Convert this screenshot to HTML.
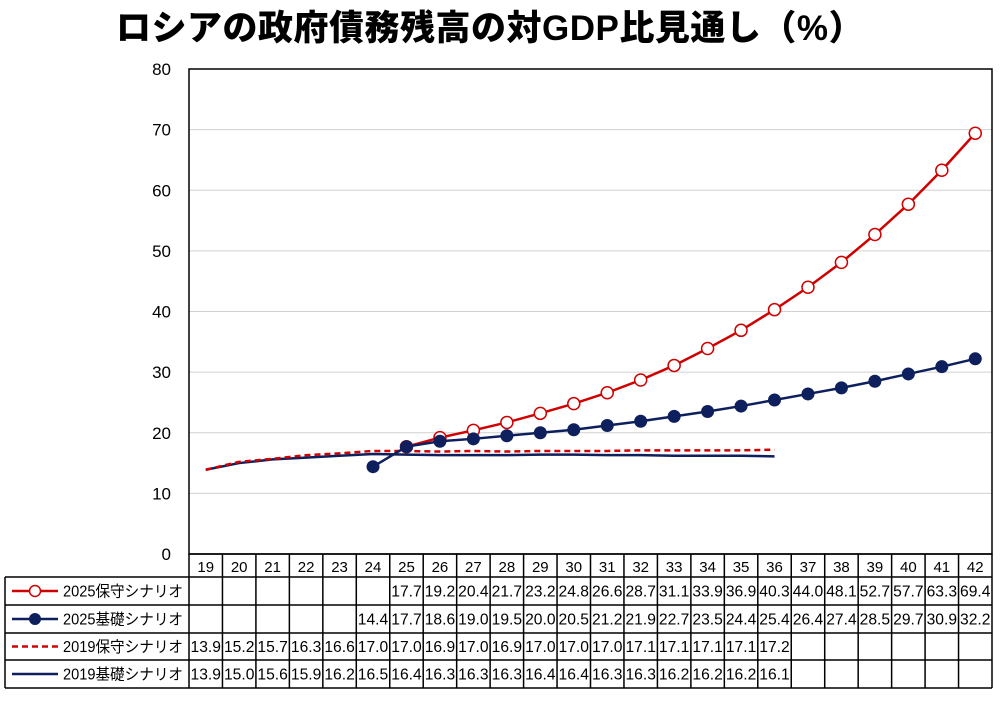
<!DOCTYPE html>
<html><head><meta charset="utf-8"><style>
body{margin:0;background:#fff;width:1000px;height:701px;overflow:hidden;font-family:"Liberation Sans","Noto Sans CJK JP",sans-serif}
#title{position:absolute;left:0;top:0px;width:980px;text-align:center;font-size:35px;font-weight:900;letter-spacing:0.5px;font-family:"Liberation Sans","Noto Sans CJK JP",sans-serif}
</style></head><body>
<div id="title">ロシアの政府債務残高の対GDP比見通し（%）</div>
<svg id="chart" width="1000" height="701" style="position:absolute;left:0;top:0"></svg>
<script>
const categories=["19","20","21","22","23","24","25","26","27","28","29","30","31","32","33","34","35","36","37","38","39","40","41","42"];
const cons2025=[null,null,null,null,null,null,17.7,19.2,20.4,21.7,23.2,24.8,26.6,28.7,31.1,33.9,36.9,40.3,44.0,48.1,52.7,57.7,63.3,69.4];
const base2025=[null,null,null,null,null,14.4,17.7,18.6,19.0,19.5,20.0,20.5,21.2,21.9,22.7,23.5,24.4,25.4,26.4,27.4,28.5,29.7,30.9,32.2];
const cons2019=[13.9,15.2,15.7,16.3,16.6,17.0,17.0,16.9,17.0,16.9,17.0,17.0,17.0,17.1,17.1,17.1,17.1,17.2,null,null,null,null,null,null];
const base2019=[13.9,15.0,15.6,15.9,16.2,16.5,16.4,16.3,16.3,16.3,16.4,16.4,16.3,16.3,16.2,16.2,16.2,16.1,null,null,null,null,null,null];
const yTicks=[0,10,20,30,40,50,60,70,80];
const seriesNames=["2025保守シナリオ","2025基礎シナリオ","2019保守シナリオ","2019基礎シナリオ"];

const NS="http://www.w3.org/2000/svg";
const svg=document.getElementById('chart');
const L=189,R=992,T=69,B=554;
const cw=(R-L)/categories.length;
const x=i=>L+cw*(i+0.5);
const y=v=>B-(v/80)*(B-T);
function mk(tag,attrs,parent){const e=document.createElementNS(NS,tag);for(const k in attrs)e.setAttribute(k,attrs[k]);(parent||svg).appendChild(e);return e;}
const RED="#d00000",NAVY="#0d1f5c";
yTicks.forEach(t=>{
 if(t>0&&t<80){const g=mk('line',{x1:L,x2:R,y1:y(t),y2:y(t),stroke:'#d0d0d0','stroke-width':1});
 
 }
 const lb=mk('text',{x:171,y:y(t)+6,'text-anchor':'end','font-size':17,fill:'#000'});
 lb.textContent=t;
 
 
});
const fr=mk('rect',{x:L,y:T,width:R-L,height:B-T,fill:'none',stroke:'#000','stroke-width':1.5});


function path(arr){let d='';arr.forEach((v,i)=>{if(v==null)return;d+=(d?'L':'M')+x(i)+','+y(v);});return d;}
function line(arr,color,dash,name){const p=mk('path',{d:path(arr),fill:'none',stroke:color,'stroke-width':2.5,'stroke-dasharray':dash||'','stroke-linejoin':'round'});
 
 }
line(base2019,NAVY,'', 'line-2019-base');
line(cons2019,RED,'6,4','line-2019-conservative');
line(cons2025,RED,'','line-2025-conservative');
cons2025.forEach((v,i)=>{if(v==null)return;const c=mk('circle',{cx:x(i),cy:y(v),r:6,fill:'#fff',stroke:RED,'stroke-width':1.5});
 
 });
line(base2025,NAVY,'','line-2025-base');
base2025.forEach((v,i)=>{if(v==null)return;const c=mk('circle',{cx:x(i),cy:y(v),r:6.5,fill:NAVY});
 
 });
const rows=[554,577,605,633,660,688];
const TL=5;
mk('line',{x1:L,x2:R,y1:rows[0],y2:rows[0],stroke:'#000','stroke-width':1.5});
for(let r=1;r<rows.length;r++)mk('line',{x1:TL,x2:R,y1:rows[r],y2:rows[r],stroke:'#000','stroke-width':1.5});
mk('line',{x1:TL,x2:TL,y1:rows[1],y2:rows[5],stroke:'#000','stroke-width':1.5});
for(let i=0;i<=categories.length;i++)mk('line',{x1:L+cw*i,x2:L+cw*i,y1:rows[0],y2:rows[5],stroke:'#000','stroke-width':1.5});
categories.forEach((c,i)=>{const t=mk('text',{x:x(i),y:572,'text-anchor':'middle','font-size':15});t.textContent=c;
 
 });
const all=[cons2025,base2025,cons2019,base2019];
all.forEach((arr,r)=>{const cy=(rows[r+1]+rows[r+2])/2+5.5;
 arr.forEach((v,i)=>{if(v==null)return;const t=mk('text',{x:x(i),y:cy,'text-anchor':'middle','font-size':15.5,'textLength':cw-3,'lengthAdjust':'spacingAndGlyphs'});t.textContent=v.toFixed(1);
 
 });
 const ly=(rows[r+1]+rows[r+2])/2;
 const color=r%2==0?RED:NAVY;
 mk('line',{x1:12,x2:58,y1:ly,y2:ly,stroke:color,'stroke-width':2.5,'stroke-dasharray':r==2?'6,4':''});
 if(r==0)mk('circle',{cx:35,cy:ly,r:5.5,fill:'#fff',stroke:RED,'stroke-width':1.5});
 if(r==1)mk('circle',{cx:35,cy:ly,r:6,fill:NAVY});
 const t=mk('text',{x:63,y:ly+5.5,'font-size':15.5,'textLength':120,'lengthAdjust':'spacingAndGlyphs'});t.textContent=seriesNames[r];
 
 
});
</script>
</body></html>
